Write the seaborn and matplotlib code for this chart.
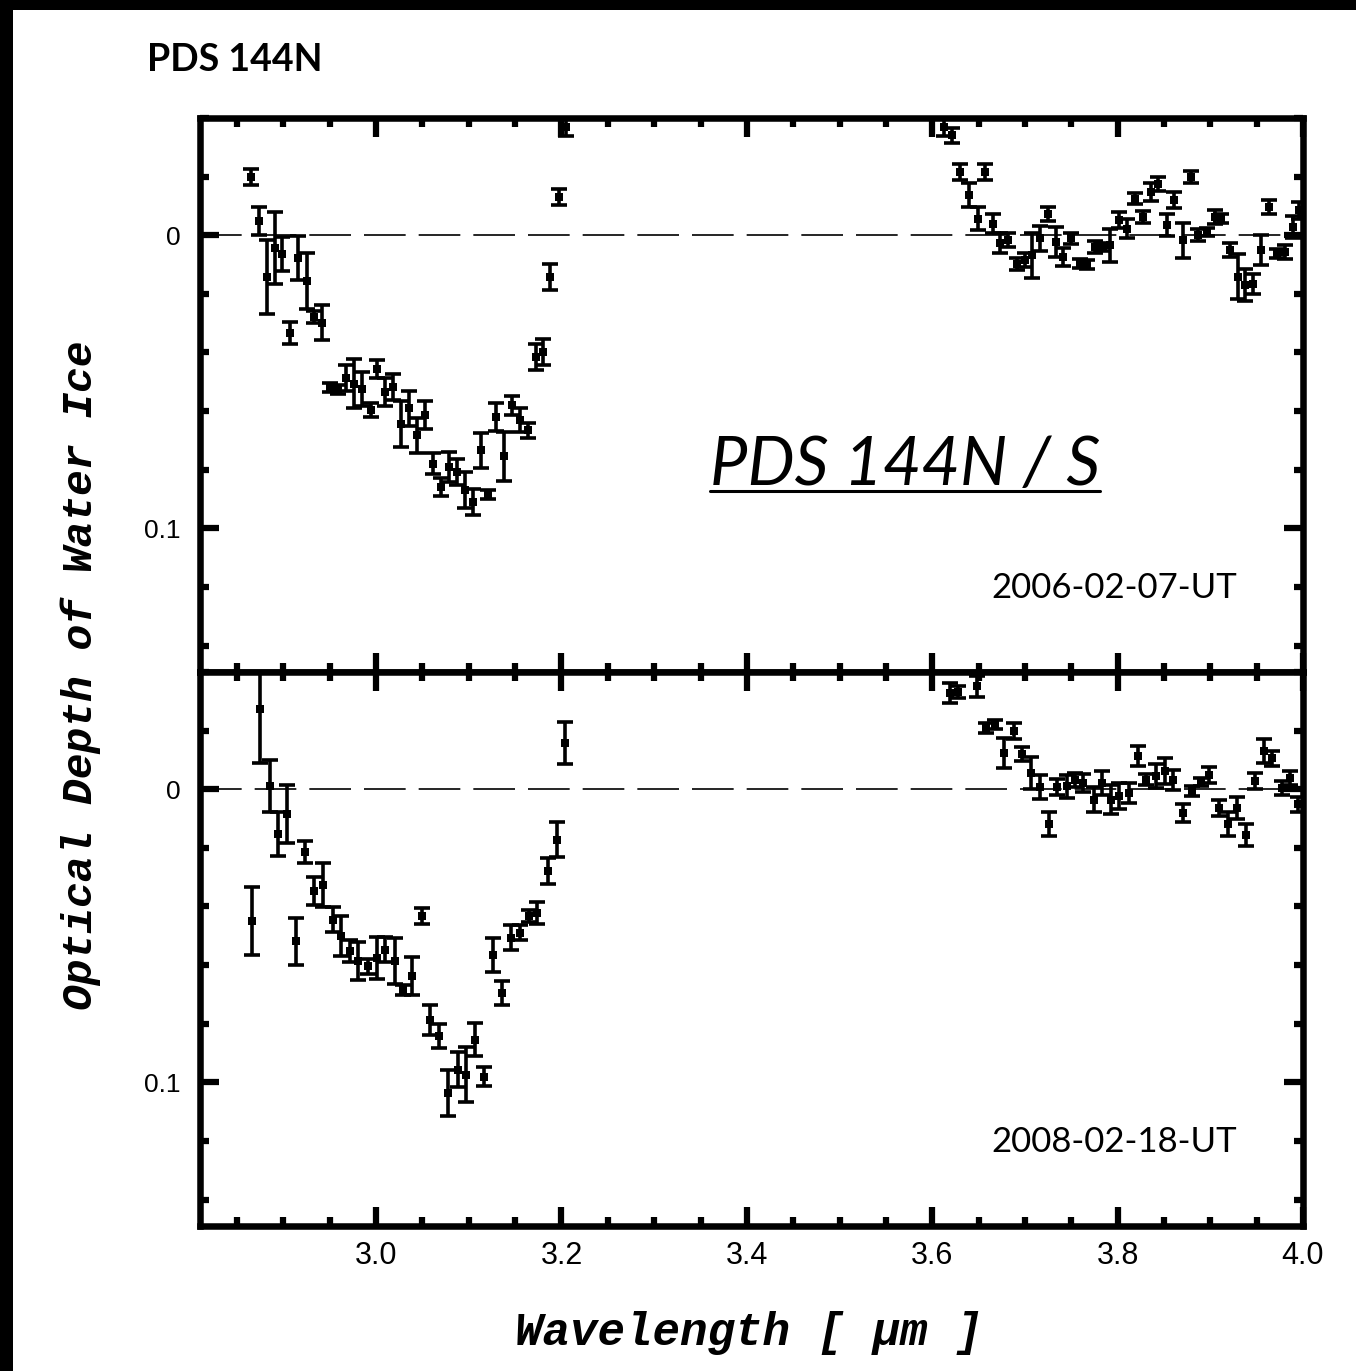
import numpy as np
import pandas as pd
import matplotlib
matplotlib.use("Agg")
import matplotlib.pyplot as plt
import seaborn as sns
from matplotlib.ticker import MultipleLocator, FixedLocator, FixedFormatter
from matplotlib.patches import Rectangle
from matplotlib.lines import Line2D

# ---------------- data ----------------
wl_2006 = [2.865, 2.874, 2.882, 2.891, 2.899, 2.907, 2.916, 2.925, 2.933, 2.942,
           2.950, 2.959, 2.968, 2.976, 2.985, 2.994, 3.001, 3.010, 3.018, 3.027,
           3.036, 3.044, 3.053, 3.061, 3.070, 3.079, 3.087, 3.096, 3.104, 3.113,
           3.121, 3.129, 3.138, 3.147, 3.155, 3.164, 3.172, 3.180, 3.188, 3.197,
           3.205,
           3.613, 3.621, 3.630, 3.640, 3.649, 3.657, 3.666, 3.673, 3.682, 3.691,
           3.700, 3.708, 3.716, 3.725, 3.734, 3.741, 3.750, 3.759, 3.767, 3.776,
           3.784, 3.792, 3.802, 3.810, 3.819, 3.827, 3.836, 3.844, 3.853, 3.861,
           3.870, 3.879, 3.887, 3.896, 3.905, 3.912, 3.921, 3.930, 3.937, 3.946,
           3.955, 3.963, 3.972, 3.981, 3.989, 3.996]
tau_2006 = [-0.0199, -0.0048, 0.0142, 0.0045, 0.0065, 0.0333, 0.0076, 0.0156, 0.0279, 0.0299,
            0.0520, 0.0527, 0.0487, 0.0506, 0.0523, 0.0597, 0.0455, 0.0535, 0.0518, 0.0643,
            0.0591, 0.0683, 0.0614, 0.0779, 0.0859, 0.0791, 0.0808, 0.0870, 0.0910, 0.0734,
            0.0884, 0.0620, 0.0754, 0.0580, 0.0631, 0.0666, 0.0415, 0.0398, 0.0142, -0.0131,
            -0.0370,
            -0.0370, -0.0341, -0.0216, -0.0137, -0.0057, -0.0216, -0.0040, 0.0028, 0.0017, 0.0097,
            0.0085, 0.0068, 0.0011, -0.0074, 0.0023, 0.0074, 0.0011, 0.0097, 0.0099, 0.0040,
            0.0040, 0.0034, -0.0051, -0.0023, -0.0125, -0.0063, -0.0148, -0.0176, -0.0034, -0.0119,
            0.0017, -0.0199, 0.0000, -0.0011, -0.0063, -0.0057, 0.0051, 0.0142, 0.0170, 0.0165,
            0.0051, -0.0097, 0.0063, 0.0057, -0.0028, -0.0085]
err_2006 = [0.0026, 0.0048, 0.0125, 0.0123, 0.0058, 0.0038, 0.0075, 0.0094, 0.0020, 0.0060,
            0.0015, 0.0015, 0.0043, 0.0085, 0.0058, 0.0024, 0.0031, 0.0048, 0.0044, 0.0079,
            0.0061, 0.0061, 0.0048, 0.0036, 0.0031, 0.0051, 0.0044, 0.0061, 0.0044, 0.0061,
            0.0015, 0.0049, 0.0084, 0.0032, 0.0041, 0.0024, 0.0044, 0.0043, 0.0044, 0.0027,
            0.0030,
            0.0030, 0.0026, 0.0026, 0.0040, 0.0038, 0.0027, 0.0034, 0.0034, 0.0024, 0.0020,
            0.0024, 0.0077, 0.0043, 0.0024, 0.0051, 0.0031, 0.0020, 0.0015, 0.0015, 0.0020,
            0.0015, 0.0057, 0.0027, 0.0031, 0.0020, 0.0020, 0.0031, 0.0024, 0.0038, 0.0027,
            0.0060, 0.0020, 0.0020, 0.0015, 0.0023, 0.0015, 0.0023, 0.0077, 0.0055, 0.0034,
            0.0051, 0.0023, 0.0015, 0.0023, 0.0038, 0.0030]

wl_2008 = [2.866, 2.875, 2.885, 2.894, 2.904, 2.914, 2.923, 2.933, 2.943, 2.953,
           2.962, 2.972, 2.981, 2.991, 3.001, 3.010, 3.020, 3.029, 3.039, 3.049,
           3.058, 3.068, 3.078, 3.088, 3.097, 3.107, 3.116, 3.126, 3.136, 3.146,
           3.155, 3.165, 3.174, 3.185, 3.195, 3.204,
           3.619, 3.628, 3.648, 3.658, 3.668, 3.677, 3.688, 3.697, 3.707, 3.716,
           3.726, 3.735, 3.745, 3.754, 3.763, 3.774, 3.783, 3.793, 3.802, 3.812,
           3.822, 3.831, 3.841, 3.851, 3.860, 3.871, 3.880, 3.890, 3.899, 3.909,
           3.919, 3.929, 3.939, 3.948, 3.958, 3.967, 3.977, 3.986, 3.995]
tau_2008 = [0.0448, -0.0274, -0.0010, 0.0153, 0.0084, 0.0519, 0.0214, 0.0348, 0.0328, 0.0445,
            0.0502, 0.0553, 0.0587, 0.0604, 0.0576, 0.0547, 0.0587, 0.0684, 0.0638, 0.0433,
            0.0786, 0.0843, 0.1036, 0.0957, 0.0974, 0.0854, 0.0980, 0.0567, 0.0695, 0.0507,
            0.0490, 0.0433, 0.0422, 0.0278, 0.0172, -0.0158,
            -0.0329, -0.0332, -0.0352, -0.0209, -0.0221, -0.0124, -0.0198, -0.0120, -0.0056, -0.0007,
            0.0120, -0.0007, -0.0010, -0.0033, -0.0022, 0.0035, -0.0022, 0.0035, 0.0024, 0.0013,
            -0.0113, -0.0033, -0.0044, -0.0061, -0.0033, 0.0081, 0.0007, -0.0025, -0.0050, 0.0064,
            0.0120, 0.0064, 0.0155, -0.0027, -0.0132, -0.0105, -0.0004, -0.0039, 0.0052]
err_2008 = [0.0116, 0.0184, 0.0089, 0.0074, 0.0099, 0.0079, 0.0038, 0.0048, 0.0075, 0.0043,
            0.0068, 0.0038, 0.0065, 0.0026, 0.0072, 0.0044, 0.0079, 0.0017, 0.0065, 0.0027,
            0.0051, 0.0041, 0.0078, 0.0060, 0.0094, 0.0055, 0.0031, 0.0058, 0.0041, 0.0043,
            0.0026, 0.0021, 0.0038, 0.0044, 0.0060, 0.0072,
            0.0034, 0.0020, 0.0036, 0.0017, 0.0015, 0.0051, 0.0027, 0.0024, 0.0055, 0.0041,
            0.0041, 0.0027, 0.0040, 0.0024, 0.0031, 0.0041, 0.0041, 0.0048, 0.0044, 0.0034,
            0.0034, 0.0020, 0.0041, 0.0044, 0.0034, 0.0032, 0.0017, 0.0015, 0.0027, 0.0027,
            0.0041, 0.0038, 0.0038, 0.0027, 0.0041, 0.0027, 0.0024, 0.0024, 0.0027]

panel_dates = ["2006-02-07-UT", "2008-02-18-UT"]
x_major_ticks = [3.0, 3.2, 3.4, 3.6, 3.8, 4.0]
x_tick_labels = ["3.0", "3.2", "3.4", "3.6", "3.8", "4.0"]
y_major_ticks = [0.0, 0.1]
y_tick_labels = ["0", "0.1"]
title_text = "PDS 144N"
inset_text = "PDS 144N / S"
x_label = "Wavelength [ \u03bcm ]"
y_label = "Optical Depth of Water Ice"

# ---------------- style ----------------
sns.set_theme(style="ticks")
plt.rcParams["font.family"] = ["Liberation Sans", "DejaVu Sans"]

W, H = 1356, 1371
fig = plt.figure(figsize=(W / 100, H / 100), dpi=100)
fig.patch.set_facecolor("white")


def fx(px):
    return px / W


def fy(py):
    return 1 - py / H


left, right = 200, 1303
ax_top = fig.add_axes([fx(left), fy(672), fx(right) - fx(left), fy(118) - fy(672)])
ax_bot = fig.add_axes([fx(left), fy(1226), fx(right) - fx(left), fy(672) - fy(1226)])

panels = [
    (ax_top, wl_2006, tau_2006, err_2006, panel_dates[0]),
    (ax_bot, wl_2008, tau_2008, err_2008, panel_dates[1]),
]

for ax, wl, tau, err, date in panels:
    df = pd.DataFrame({"wl": wl, "tau": tau, "err": err})
    ax.set_facecolor("white")
    ax.axhline(0, color="black", lw=1.2, dashes=(25, 7.8), zorder=2)
    ax.errorbar(df["wl"], df["tau"], yerr=df["err"], fmt="none", ecolor="black",
                elinewidth=2.6, capsize=6, capthick=2.6, zorder=3)
    sns.scatterplot(data=df, x="wl", y="tau", ax=ax, marker="s", s=28,
                    color="black", edgecolor="black", linewidth=0, zorder=4,
                    legend=False)
    ax.set_xlim(2.81, 4.0)
    ax.set_ylim(0.149, -0.04)
    ax.set_xlabel("")
    ax.set_ylabel("")
    ax.xaxis.set_major_locator(FixedLocator(x_major_ticks))
    ax.xaxis.set_major_formatter(FixedFormatter(x_tick_labels))
    ax.xaxis.set_minor_locator(MultipleLocator(0.05))
    ax.yaxis.set_major_locator(FixedLocator(y_major_ticks))
    ax.yaxis.set_major_formatter(FixedFormatter(y_tick_labels))
    ax.yaxis.set_minor_locator(MultipleLocator(0.02))
    ax.tick_params(which="both", direction="in", top=True, bottom=True,
                   left=True, right=True, width=4.5, color="black")
    ax.tick_params(which="major", length=14)
    ax.tick_params(which="minor", length=6.5)
    ax.tick_params(axis="y", which="major", labelsize=19, pad=14,
                   labelcolor="black")
    ax.tick_params(axis="x", which="major", labelsize=22, pad=11,
                   labelcolor="black")
    for sp in ax.spines.values():
        sp.set_linewidth(4.7)
        sp.set_color("black")
        sp.set_visible(True)
    ax.text(0.94, 0.152, date, transform=ax.transAxes, ha="right", va="center",
            family=["Lato", "DejaVu Sans"], size=25, color="black")

ax_top.tick_params(axis="x", labelbottom=False)

# ---------------- figure texts ----------------
fig.text(fx(147), fy(71), title_text, ha="left", va="baseline",
         family=["Lato", "DejaVu Sans"], weight="bold", size=27, color="black")

inset = fig.text(fx(710), fy(485), inset_text, ha="left", va="baseline",
                 family=["Lato", "DejaVu Sans"], style="italic", size=48,
                 color="black")

fig.text(fx(81), fy(675), y_label, rotation=90, ha="center", va="center",
         family=["Liberation Mono", "DejaVu Sans Mono"], weight="bold",
         style="italic", size=31, color="black")
fig.text(fx(749), fy(1333), x_label, ha="center", va="center",
         family=["Liberation Mono", "DejaVu Sans Mono"], weight="bold",
         style="italic", size=33, color="black")

# underline for the inset text
fig.canvas.draw()
bb = inset.get_window_extent(fig.canvas.get_renderer())
fig.add_artist(Line2D([bb.x0 / W, bb.x1 / W], [fy(491), fy(491)],
                      transform=fig.transFigure, color="black", lw=2.2))

# black frame bands of the original picture
fig.patches.append(Rectangle((0, fy(10)), 1, 10 / H, transform=fig.transFigure,
                             facecolor="black", edgecolor="none", zorder=10))
fig.patches.append(Rectangle((0, 0), 13 / W, 1, transform=fig.transFigure,
                             facecolor="black", edgecolor="none", zorder=10))

fig.savefig("out.png", dpi=100, facecolor="white")
